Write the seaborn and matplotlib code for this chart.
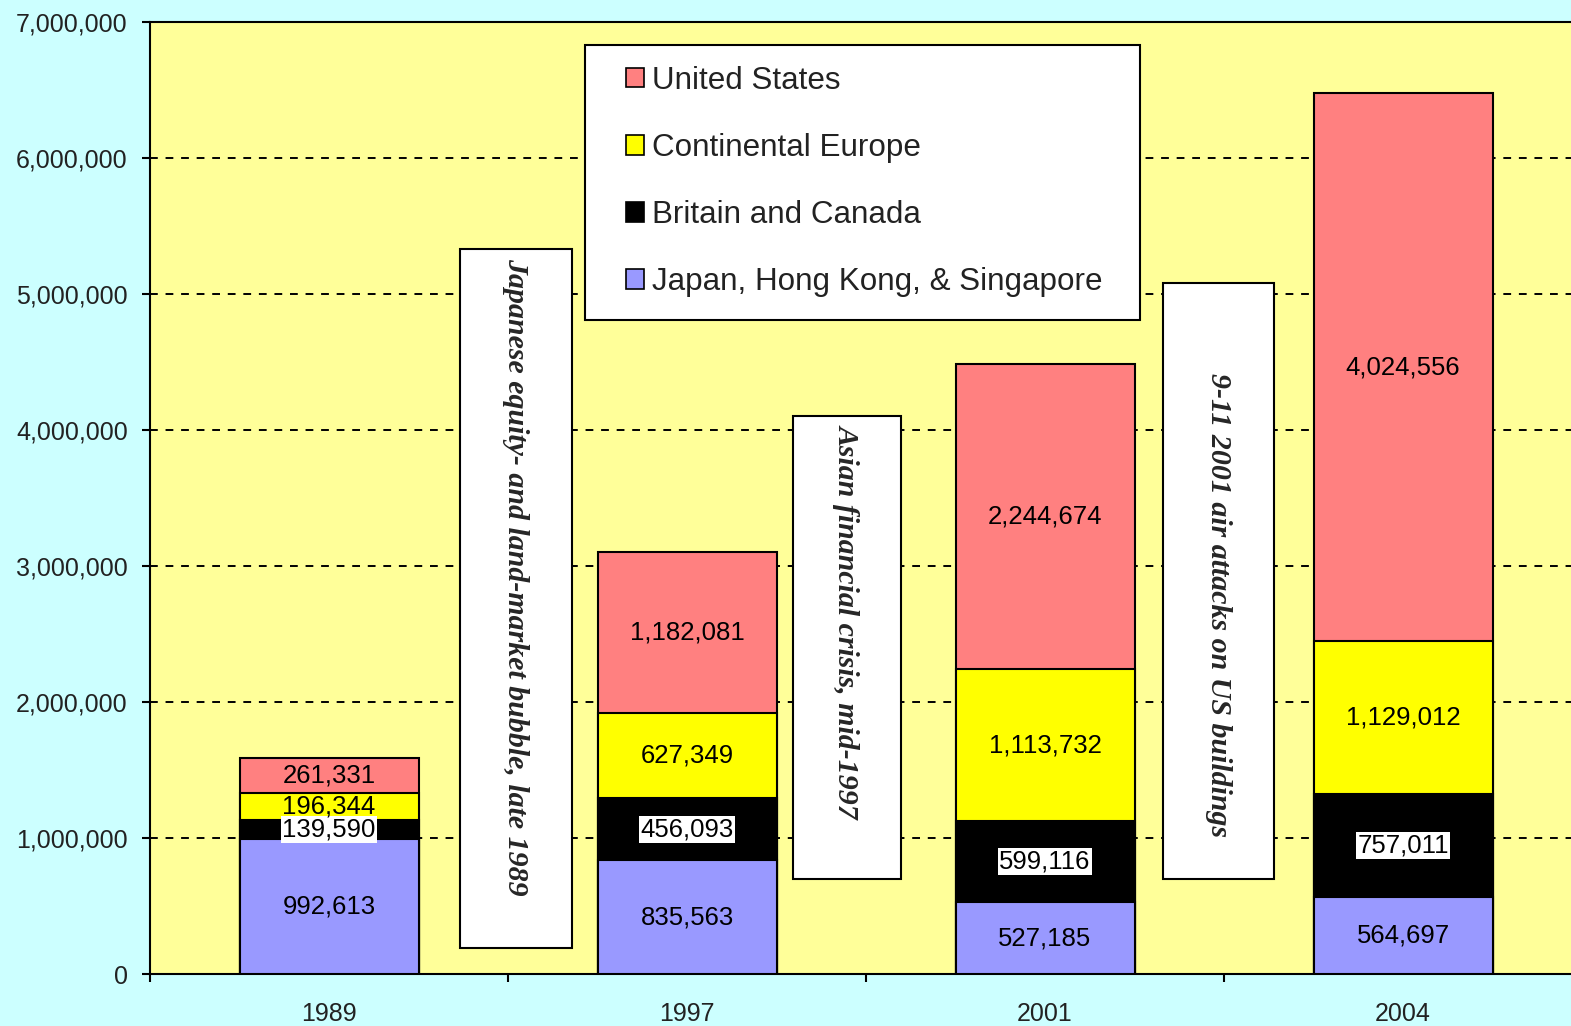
import matplotlib
matplotlib.use("Agg")
import matplotlib.pyplot as plt
import seaborn as sns
import numpy as np
import pandas as pd
from matplotlib.patches import Patch, Rectangle
from matplotlib.ticker import FuncFormatter, MultipleLocator

# ---- data ----
years = ["1989", "1997", "2001", "2004"]
japan_hk_sg = [992613, 835563, 527185, 564697]
britain_canada = [139590, 456093, 599116, 757011]
continental_europe = [196344, 627349, 1113732, 1129012]
united_states = [261331, 1182081, 2244674, 4024556]

series_names = ["Japan, Hong Kong, & Singapore", "Britain and Canada",
                "Continental Europe", "United States"]
series_colors = ["#9999FF", "#000000", "#FFFF00", "#FF8080"]

events = ["Japanese equity- and land-market bubble, late 1989",
          "Asian financial crisis, mid-1997",
          "9-11 2001 air attacks on US buildings"]

# ---- styling ----
sns.set_theme(style="white")
plt.rcParams["font.family"] = ["Liberation Sans", "DejaVu Sans"]

fig = plt.figure(figsize=(15.71, 10.26), dpi=100, facecolor="#CCFFFF")
ax = fig.add_axes([150 / 1571, 1 - 974 / 1026, 1432 / 1571, 952 / 1026])
ax.set_facecolor("#FFFF99")

series = [japan_hk_sg, britain_canada, continental_europe, united_states]
cum = np.cumsum(np.array(series, dtype=float), axis=0)

# draw from top-most cumulative to bottom so stacks look right
for i in range(len(series) - 1, -1, -1):
    df = pd.DataFrame({"year": years, "value": cum[i]})
    sns.barplot(data=df, x="year", y="value", color=series_colors[i],
                saturation=1, width=0.5, edgecolor="black", linewidth=1.5,
                ax=ax, zorder=3, errorbar=None)

# value labels
for i, vals in enumerate(series):
    for j, v in enumerate(vals):
        ymid = cum[i][j] - v / 2
        kw = {}
        if series_colors[i] == "#000000":
            kw["bbox"] = dict(facecolor="white", edgecolor="none", pad=1.0)
        ax.text(j, ymid, f"{v:,}", ha="center", va="center",
                fontsize=18.5, color="black", zorder=6, **kw)

# event annotation boxes (x0, x1, y0, y1 in data units)
event_boxes = [(0.367, 0.678, 190000, 5330000),
               (1.296, 1.598, 700000, 4100000),
               (2.330, 2.640, 700000, 5080000)]
event_text_y = [2920000, 2600000, 2710000]
for (x0, x1, y0, y1), label, ty in zip(event_boxes, events, event_text_y):
    ax.add_patch(Rectangle((x0, y0), x1 - x0, y1 - y0, facecolor="white",
                           edgecolor="black", linewidth=1.5, zorder=4))
    ax.text((x0 + x1) / 2, ty, label, rotation=270, ha="center", va="center",
            family=["Liberation Serif", "DejaVu Serif"], fontweight="bold",
            fontstyle="italic", fontsize=21.5, zorder=5)

# axes
ax.set_xlim(-0.5, 3.5)
ax.set_ylim(0, 7000000)
ax.yaxis.set_major_locator(MultipleLocator(1000000))
ax.yaxis.set_major_formatter(FuncFormatter(lambda v, p: f"{int(v):,}"))
ax.set_xlabel("")
ax.set_ylabel("")
ax.set_xticks(range(len(years)))
ax.set_xticklabels(years)
ax.set_xticks([-0.5, 0.5, 1.5, 2.5, 3.5], minor=True)
ax.tick_params(axis="x", which="major", length=0, pad=20, labelsize=18)
ax.tick_params(axis="x", which="minor", length=6, width=1.5, direction="out",
               color="black", bottom=True)
ax.tick_params(axis="y", which="major", length=6, width=1.5, direction="out",
               pad=10, labelsize=18, color="black", left=True)
for lab in ax.get_yticklabels() + ax.get_xticklabels():
    lab.set_color("#222222")

# dashed grid
for yv in range(1000000, 7000000, 1000000):
    ax.axhline(yv, color="black", linestyle=(0, (4, 4)), linewidth=1.4,
               zorder=1)

for side in ["left", "bottom", "top"]:
    ax.spines[side].set_visible(True)
    ax.spines[side].set_color("black")
    ax.spines[side].set_linewidth(1.5)
ax.spines["right"].set_visible(False)

# legend box (frame drawn separately in figure coordinates)
ax.add_patch(Rectangle((585 / 1571, 1 - 320 / 1026), 555 / 1571, 275 / 1026,
                       transform=fig.transFigure, facecolor="white",
                       edgecolor="black", linewidth=1.5, zorder=6,
                       clip_on=False))
handles = [Patch(facecolor=series_colors[i], edgecolor="black", linewidth=1.2,
                 label=series_names[i]) for i in range(3, -1, -1)]
leg = ax.legend(handles=handles,
                bbox_to_anchor=(626 / 1571, 1 - 66 / 1026),
                bbox_transform=fig.transFigure, loc="upper left",
                fontsize=22.6, frameon=False, borderpad=0,
                labelspacing=1.18, handlelength=0.56, handleheight=0.56,
                handletextpad=0.28, borderaxespad=0)
leg.set_zorder(8)
for t in leg.get_texts():
    t.set_color("#222222")

fig.savefig("out.png", dpi=100, facecolor=fig.get_facecolor())
